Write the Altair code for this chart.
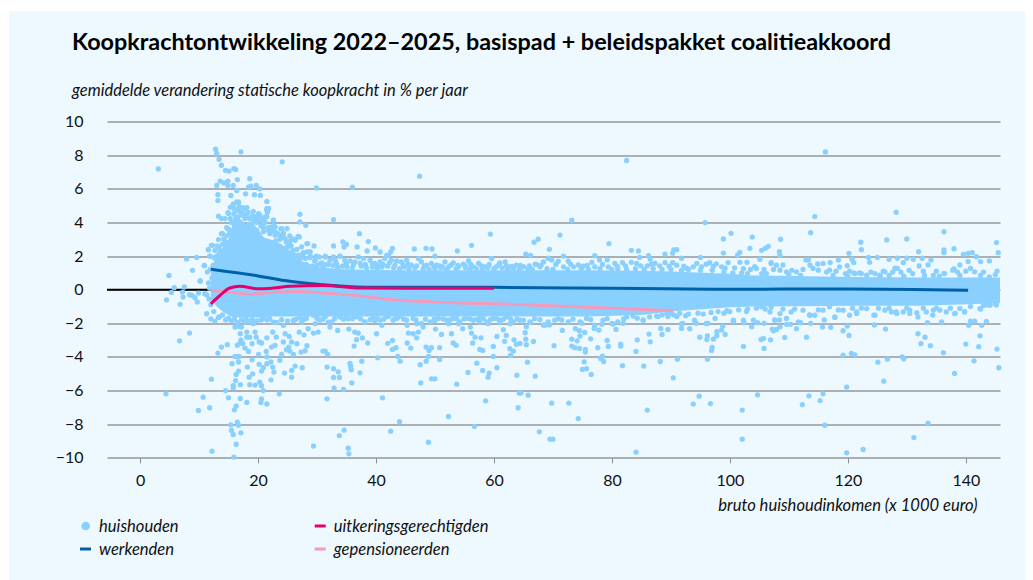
import altair as alt
import pandas as pd

FONT = "Lato"
BG = "#EDF8FF"
DOT = "#8AD0FF"
BLUE = "#0060A8"
MAGENTA = "#E6006E"
PINK = "#F59ABA"
INK = "#111111"

title_text = "Koopkrachtontwikkeling 2022–2025, basispad + beleidspakket coalitieakkoord"
subtitle_text = "gemiddelde verandering statische koopkracht in % per jaar"
x_title = "bruto huishoudinkomen (x 1000 euro)"

# solid core of the household cloud: upper and lower edge
band_x = [12, 13, 14, 15, 15.5, 16, 17, 18, 19, 20, 21, 22, 23, 24, 25, 26, 27, 28, 30, 35, 44, 55, 64, 76, 85, 90, 100, 104, 121, 132, 145.8]
band_hi = [1.0, 2.2, 2.5, 3.0, 3.6, 4.6, 4.2, 3.9, 4.0, 3.6, 3.1, 3.0, 2.9, 2.7, 2.4, 2.1, 1.8, 1.6, 1.35, 1.2, 1.15, 1.15, 1.15, 1.15, 1.12, 1.08, 0.95, 0.85, 0.75, 0.72, 0.72]
band_lo = [-0.6, -1.0, -1.3, -1.5, -1.6, -1.65, -1.65, -1.65, -1.65, -1.65, -1.65, -1.6, -1.6, -1.6, -1.6, -1.6, -1.6, -1.6, -1.6, -1.6, -1.6, -1.6, -1.6, -1.6, -1.5, -1.3, -1.05, -1.0, -0.95, -0.95, -0.8]

pts_upper_left = [
    (3.1,7.18),(12.8,8.35),(13,8.1),(13.4,7.75),(13.8,7.4),(14.5,7.1),(15.1,7.05),(15.9,7.2),(16.2,7.15),(17.1,8.2),
    (24.1,7.6),(18.6,6.6),(16.5,6.55),(29.9,6.05),(36,6.1),(47.4,6.75),(19.7,6.2),(20.3,6),(20.4,5.6),(19.4,5.65),
    (21.5,5.25),(17.9,5.7),(18.4,6.1),(18.8,6.15),(13,6.2),(13.6,6.45),(14.2,6.35),(14.9,6.45),(14.9,6.2),(15.4,5.6),
    (16.4,5.9),(15.8,6.2),(13.2,5.65),(13.2,5.3),(27.1,4.48),(27.1,4.03),(28.1,3.83),(32.8,4.17),(37.2,3.33),(59.4,3.31),
    (56.2,2.64),(53.8,2.3),(59.6,1.85),(46.5,2.42),(48.5,2.46),(49.5,2.42),(50,2),(47.3,1.85),(42.8,2.46),(42.5,2.24),
    (41.8,2.04),(39.9,2.48),(40.7,2.24),(38.7,2.86),(38.5,2.3),(36.8,2.54),(34.4,2.84),(35,2.7),(34.6,2.54),(32.8,2.6),
    (33.9,2),(32.8,1.95),(31.4,2),(29.5,2.6),(28.4,2.74),(28.8,2.24),(27.7,2.2),(29.9,2),(26.8,3.17),(26,3),
    (25.4,2.9),(24.9,3.63),(23.9,3.63),(24.3,3.33),(22.6,4.13),(22.7,3.79),(21.5,4.82),(21.6,4.6),(21.2,4.33),
    (16.4,5.22),(16.7,5.16),(15.8,5.02),(17.3,4.88),(18.1,4.88),(19.2,4.66),(20.1,4.52),(20.6,4.23),(16.4,4.72),(14.9,4.58),
    (13.3,4.37),(13.8,4.23),(14.4,4.23),(15.3,4.23),(14.7,3.69),(14,3.33),(14.4,2.88),(13.3,2.98),(12.7,2.34),(13,2),
    (13,1.65),(18,3.63),(19.8,3.53),(20.9,3.69),(22,3.33),(22.9,3.23),(23.7,3),(24.9,2.54),(25.7,2.24),(26.3,2.04),
    (27.1,1.85),(21.2,4.03),(19.2,4.03),(16.5,4.33),(17.8,4.23),
    (15,4.53),(15.8,5.08),(16.7,5.2),(17.8,4.83),(18.1,4.43),(20.3,4.43),(20.9,4.13),(21.5,4.73),(21.8,4.83),(21.5,4.33),
    (22.6,4.13),(22.3,3.73),(22.9,3.73),(24,3.63),(24.3,3.33),(25.4,3.2),(26.3,2.94),(27,3.14),(13.8,3.33),(14.4,2.84),
    (12.3,2.64),(11.6,2.38),(11.9,2),(10.9,1.45),(15.2,3.33),(16.4,4.13),(17.2,4.43),(18.6,4.23),(19.8,4),(17.5,3.57),
    (20.9,3.44),(21.7,3.54),(22.9,3.44),(23.7,3.24),(24.6,3.04),(25.4,2.65),(27.4,2.55),(26,2.35),(28.3,2.74),(28.3,2.25),
    (12.6,1.9),(13.4,2.5),(14.2,3),(15,3.6),(15.5,4),(16,4.8),(17,4.6),(18.5,3.9),(19.5,4.2),(20.5,3.8),
    (15.3,4.9),(15.9,4.5),(16.8,4.9),(17.4,4.55),(18.3,4.6),(19.1,4.4),(19.7,4.35),(20.2,4.15),(21,3.95),(21.8,3.7),
    (22.4,3.5),(23.3,3.35),(24,3.1),(24.8,2.85),(25.6,2.6),(26.6,2.4),(27.6,2.1),(28.8,1.9),(29.6,1.7),(13.1,2.6),
    (14,2.7),(14.7,3.2),(15.4,3.5),(16.1,3.9),(23,2.9),(25.1,2.55),(26.9,2.05),(28,1.85),(30.6,1.55),(31.6,1.5),
    (11.9,1.2),(12.2,0.7),(12,-0.9),(12.5,-1.3),(13.3,-1.65),(14,-1.5),(11.8,0.1),(11.7,-0.55),(12.4,1.45),(13.6,2.2),
]

pts_upper_mid = [
    (27.7,2.15),(28.8,2.25),(28.9,2),(29.7,1.75),(30.4,1.95),(31.4,1.95),(32.2,1.75),(33.1,1.75),(33.9,2),(34.7,1.75),
    (35.6,1.71),(36.4,1.65),(37,1.95),(37.9,1.85),(39,1.75),(39.8,1.56),(40.7,1.65),(41.5,1.85),(42.1,2.05),(42.6,1.75),
    (43.5,1.71),(44.3,1.65),(45.2,1.75),(46,1.46),(47.2,1.85),(47.7,1.65),(48.6,1.46),(49.4,1.56),(50.3,1.46),(51.7,1.65),
    (52.3,1.36),(53.1,1.6),(54,1.36),(54.8,1.52),(55.7,1.71),(56.5,1.36),(57.4,1.56),(58.5,1.36),(59.6,1.85),(60.4,1.36),
    (61,1.6),(61.9,1.65),(62.7,1.36),(63.8,1.46),(65,1.36),
    (28.2,1.5),(29.2,1.4),(30,1.45),(31,1.35),(32.7,1.45),(33.5,1.35),(34.3,1.4),(35.1,1.35),(36,1.3),(37.5,1.4),
    (38.4,1.3),(39.4,1.35),(40.2,1.25),(41,1.35),(42,1.4),(43,1.3),(44,1.25),(44.8,1.35),(45.6,1.2),(46.6,1.3),
    (48,1.25),(49,1.2),(50,1.25),(51,1.3),(52,1.2),(53.6,1.25),(55.2,1.3),(56,1.25),(57,1.25),(58,1.2),
    (59,1.3),(60,1.25),(61.4,1.3),(62.3,1.2),(63.3,1.25),(64.3,1.2),
    (30.8,1.6),(31.9,1.5),(33.3,1.55),(34.9,1.52),(36.2,1.48),(37.3,1.58),(38.2,1.5),(39.4,1.52),(40.3,1.42),(41.2,1.5),
    (42.3,1.6),(43.2,1.45),(44.6,1.48),(45.5,1.5),(46.9,1.42),(48.2,1.4),(49.8,1.38),(50.8,1.42),(51.3,1.35),(52.7,1.46),
    (53.9,1.44),(55.1,1.42),(56.1,1.5),(57.9,1.42),(59.2,1.5),(60.8,1.48),(62.1,1.42),(63.1,1.38),(64.5,1.45),
]

pts_far_left = [
    (7.9,1.83),(9.6,1.92),(8.9,1.15),(4.9,0.85),(10.2,0.54),(10.9,1.43),(11.6,2.38),(12.1,2.64),(11.8,2),(11.4,1.05),
    (5.8,0.12),(7.5,0.16),(5.3,-0.16),(7.2,-0.14),(8.4,-0.3),(8.8,-0.34),(7.3,-0.44),(9.3,-0.48),(9.7,-0.73),(6.8,-0.87),
    (4.5,-0.6),(9.9,-0.2),(11,-0.24),(11.3,-0.3),(10.2,0.5),(11.6,0.4),(11.3,-1.43),(12,-1.73),(12.7,-1.87),(8.4,-2.58),
    (6.7,-3.04),
]

pts_lower_left = [
    (13.2,-3.77),(13.8,-3.41),(14.8,-3.27),(15.6,-4.4),(16.5,-4),(16.1,-3.97),(16.8,-3.97),(16.7,-4.3),(17,-3.17),(16.5,-3.3),
    (17.4,-3.2),(17.1,-3),(17.8,-3.47),(18.4,-3.67),(19,-4.17),(20.1,-3.85),(21.5,-4),(21.4,-3.67),(22.3,-3.41),(22.9,-3.31),
    (20.6,-3.17),(20.2,-3.11),(19,-3.21),(18.1,-2.52),(19.5,-2.52),(17,-2.62),(16.1,-2.22),(16.7,-2.18),(17.2,-2.22),(18.6,-2.82),
    (19.7,-2.82),(18.1,-2.82),(21.5,-2.86),(22.5,-2.52),(23.1,-2.82),(24.6,-2.62),(25.3,-2.78),(24.3,-3.11),(25.7,-3.11),(26.6,-3.21),
    (27,-2.52),(27.8,-2.68),(28.5,-2.32),(29.4,-2.58),(30.2,-2.52),(25.2,-3.41),(24.8,-3.57),(25.4,-3.65),(26,-3.85),(24,-3.85),
    (23.7,-4.2),(22.2,-4.3),(22.5,-4.6),(21.5,-4.4),(20.9,-4.64),(20.2,-4.44),(18.2,-4.6),(19.1,-5),(18.5,-5.2),(16.7,-4.84),
    (16.3,-5.04),(16.2,-5.4),(15.8,-5.7),(17,-5.65),(15.8,-5.83),(18.6,-5.65),(19.5,-5.67),(20.3,-5.5),(20.6,-5.71),(20.9,-6),
    (20.6,-4.84),(22.7,-4.9),(22.2,-5.36),(24.5,-4.96),(25.7,-4.8),(26.3,-4.54),(25.7,-5.2),(27.5,-4.64),(27.3,-3.71),(28,-3.63),
    (28.3,-3.33),(23.6,-6.19),(12.1,-5.32),(14.5,-6),(4.4,-6.19),(10.7,-6.39),(15,-6.43),(17,-6.47),(18.1,-6.7),(20.5,-6.7),
    (20.6,-6.49),(21.5,-6.79),(16.3,-6.92),(16,-7.14),(11.8,-7.02),(9.9,-7.18),(15.4,-8.04),(16.5,-7.88),(16.7,-8.06),(15.5,-8.37),
    (15.8,-8.61),(17.1,-8.51),(16.3,-9.19),(12.2,-9.6),(15.9,-9.95),
    (13.5,-1.6),(14.5,-1.8),(15.5,-1.85),(16.5,-1.95),(17.2,-1.8),(18.4,-1.9),(19.8,-1.85),(21.6,-1.8),(23.2,-1.95),(25,-1.85),
    (15,-1.7),(16,-1.75),(18,-1.75),(19,-1.78),(20.5,-1.8),(22,-1.72),(24,-1.78),(26.5,-1.75),
]

pts_lower_mid = [
    (29.4,-9.3),(33.8,-8.67),(34.6,-8.35),(35.3,-9.42),(35.4,-9.76),(42.5,-8.41),(44,-7.85),(48.9,-9.07),(52.3,-7.54),(56.7,-8.13),
    (41.1,-6.43),(31.7,-6.49),(34.5,-5.93),(32.9,-5.85),(32.8,-5.22),(33.8,-5.22),(33.6,-4.88),(32.8,-4.7),(31.7,-4.6),(35.9,-5.54),
    (35.8,-4.76),(35.7,-4.56),(35.6,-4.38),(37.3,-4.94),(37.6,-4.25),(40.3,-4.05),(31,-3.65),(31.4,-3.65),(31.8,-3.85),(36.3,-3.35),
    (36.7,-2.97),(37.7,-2.87),(38.6,-3.17),(37,-2.58),(36.4,-2.52),(35.4,-2.34),(33.5,-2.42),(40.1,-2.62),(41,-2.12),(42,-3.19),
    (42.8,-3.02),(43.4,-3.45),(42.8,-3.55),(43.7,-3.97),(44.1,-4.25),(45.3,-3.17),(45.9,-3.47),(45.5,-2.58),(46.3,-2.62),(47.2,-2.52),
    (46.9,-2.86),(47.5,-4.46),(47.6,-5.54),(48.5,-4.25),(48.9,-3.97),(48.5,-3.41),(49.4,-3.45),(49,-3.61),(50.8,-3.45),(50.8,-4.15),
    (49.4,-5.3),(50,-5.3),(53.7,-5.62),(55.6,-4.92),(57.1,-4.37),(58.1,-4.8),(59.2,-4.96),(59,-5.2),(58.6,-6.61),(60.5,-4.64),
    (59.9,-3.97),(59.9,-3.37),(53.1,-3.17),(53.6,-3.31),(51.1,-2.66),(52.8,-2.62),(54.7,-2.32),(50.1,-2.34),(56.2,-2.58),(56.8,-2.82),
    (56.4,-3.17),(57.8,-2.86),(57.6,-3.55),(58.1,-3.61),(60.5,-2.78),(61.6,-2.38),(62.1,-2.72),(61.8,-3.07),(63.4,-2.98),(63.8,-3.25),
    (62.7,-3.51),(63.3,-3.65),(62.8,-3.91),(63.9,-5.08),(64.3,-6.15),(64.1,-7.02),
    (17.8,-1.93),(19.2,-2.02),(20.9,-1.73),(22.6,-1.93),(24.3,-2.12),(26,-1.84),(27.4,-1.93),(29.7,-2.02),(32.2,-2.22),(31.9,-1.93),
    (33.9,-1.63),(35.3,-1.73),(38.1,-1.93),(39.8,-1.84),(42.1,-1.59),(43.2,-1.73),(45.3,-2.12),(46.9,-2.02),(48,-2.22),(50,-1.84),
    (52.3,-2.02),(54,-2.02),(56,-2.22),(57.6,-1.93),(59,-2.02),(61,-1.93),(62.7,-2.02),
    (26,-1.81),(27.1,-1.65),(28.2,-1.71),(29.4,-1.52),(30.5,-1.81),(31.4,-1.61),(32.5,-1.91),(33.9,-1.58),(35,-1.65),(36.7,-1.61),
    (38.1,-1.91),(39.5,-1.71),(40.7,-1.81),(41.8,-1.61),(42.9,-1.81),(44,-1.58),(45.2,-1.81),(46.3,-1.71),(47.7,-2.01),(49.2,-1.91),
    (50.6,-1.71),(52,-1.81),(53.1,-1.71),(54.2,-1.91),(55.4,-1.71),(56.5,-1.81),(57.6,-1.71),(58.8,-1.91),(59.9,-1.71),(61,-1.81),
    (62.1,-1.61),(63.3,-1.91),(64.4,-1.81),
    (27.8,-1.75),(30,-1.7),(31,-1.75),(33,-1.72),(34.5,-1.75),(36,-1.72),(37.4,-1.74),(39,-1.78),(40.2,-1.7),(41.3,-1.75),
    (43.6,-1.7),(44.7,-1.75),(46.8,-1.8),(48.4,-1.75),(49.9,-1.72),(51.4,-1.74),(52.6,-1.78),(53.7,-1.72),(54.9,-1.74),(56,-1.74),
    (57.1,-1.76),(58.2,-1.72),(59.4,-1.78),(60.5,-1.72),(61.6,-1.76),(62.8,-1.72),(63.9,-1.74),
]

pts_upper_right = [
    (82.5,7.68),(116.2,8.19),(73.2,4.13),(95.8,3.99),(114.4,4.35),(128.2,4.6),(113.7,3.39),(100.2,3.35),(98.9,3.02),(103.8,3.13),
    (108.6,3),(122.2,2.82),(126.6,2.96),(130,3.02),(136.3,3.45),(145.2,2.8),(71.2,3.25),(67.5,3),(66.8,2.82),(79.5,2.74),
    (69.4,2.4),(83.3,2.34),(84.5,2.3),(91,2.38),(90.5,2.36),(89,2.12),(90.3,2.16),(65.4,2.12),(66.2,2.04),(71.8,2),
    (77.1,2.02),(86.2,2.02),(95,1.92),(91.8,1.87),(98.9,2.18),(101.7,2.22),(101.3,2.06),(103.4,2.46),(105.4,2.34),(106,2.46),
    (106.5,2.58),(108.4,2.26),(108.5,2.04),(122.3,2.38),(120.2,2.16),(132,2.26),(136.3,2.36),(136.3,2.2),(138,2.44),(139.6,2.1),
    (140.4,2.16),(141.1,2.2),(145.5,2.2),(77.9,1.77),(79.2,1.77),(72.6,1.69),(70.9,1.69),(69.2,1.87),(69.8,1.77),(68.4,1.65),
    (67.2,1.51),(65,1.37),(74.3,1.47),(76.6,1.63),(80.5,1.57),(81.8,1.61),(83.3,1.63),(84.7,1.92),(86.5,1.81),(87.3,1.57),
    (89,1.61),(90.3,1.61),(94.4,1.57),(96.6,1.61),(97.7,1.53),(99.7,1.61),(101.7,1.63),(102.9,1.63),(105.1,1.81),(104.2,1.37),
    (107,1.61),(109,1.47),(112.9,1.77),(113.3,1.77),(114.9,1.53),(117,1.61),(118.4,1.77),(119.9,1.43),(121,1.61),(120.7,1.81),
    (123.5,1.92),(123.7,1.63),(125,1.92),(127,1.81),(128.4,1.87),(130,1.87),(131.1,1.81),(132.6,1.87),(134.1,1.77),(129.4,1.61),
    (128,1.27),(133.6,1.47),(132.1,1.41),(139,1.47),(140.4,1.67),(141.8,1.96),(142.5,1.67),(144,1.71),(140.8,1.27),(138,1.23),
    (136.3,0.97),(126,1.11),(128.4,1.27),(121,1),(122,1),(125.5,0.83),
    (65.8,1.26),(67,1.52),(67.8,1.36),(71.8,1.36),(73.5,1.36),(75.1,1.4),(77.1,1.36),(79.4,1.36),(84.2,1.56),(86.7,1.52),
    (91,1.46),(92.7,1.26),(93.8,1.36),(96,1.52),(98.6,1.36),(104.5,1.26),(105.4,0.96),(106.2,0.96),(107,1.56),(107.9,1.46),
    (108.5,1.16),(109.6,1.06),(111.3,1.06),(113.6,1.46),(114.1,1.26),(115,1.16),(115.8,1.56),(116.9,1.16),(118.6,1.36),(119.6,0.96),
    (121.2,0.96),(122.3,0.96),(123.2,0.86),(124.6,0.96),(125.4,0.86),(126.3,1.06),(128,1.26),(131,0.96),(136.4,0.96),(137.8,1.16),
    (141.5,1.06),(144,0.76),(66.5,1.2),(69,1.25),(70,1.2),(72.5,1.2),(74.8,1.25),(76,1.2),(78,1.25),(80,1.2),
    (81,1.25),(82.5,1.2),(84,1.25),(85.5,1.2),(87,1.25),(88.5,1.2),(90,1.2),(91.8,1.15),(93,1.2),(95,1.15),
    (97,1.15),(99,1.05),(100.5,1),(102,1),(103,0.95),(110,0.9),(112,0.85),(117.5,0.85),(120,0.8),(127,0.85),
    (129.5,0.8),(133,0.85),(134.5,0.85),(135.5,0.8),(139,0.85),(142.5,0.85),(145,0.9),
    (66,1.42),(68,1.45),(70.5,1.5),(73,1.52),(75.8,1.45),(78.4,1.5),(80.9,1.4),(82.3,1.42),(84.9,1.42),(86,1.42),
    (88.1,1.42),(89.7,1.4),(92.2,1.38),(95.2,1.36),(97.2,1.38),(99.2,1.28),(100.8,1.3),(102.3,1.25),(103.5,1.2),(105.8,1.2),
    (107.4,1.2),(110.5,1.15),(112.4,1.2),(116.4,1.05),(118,1.1),(120.3,1.1),(123.9,1.05),(127.6,1.05),(129,1.05),(130.4,1.15),
    (132.8,1.1),(135,1.1),(138.6,1.05),(140,1.1),(143,1.05),(145.3,1.1),
]

pts_lower_right = [
    (65.5,-2.2),(65.3,-2.56),(65.4,-2.94),(66.7,-3.08),(65.5,-3.27),(64.4,-3.2),(71.6,-2.42),(70.2,-3.33),(73.8,-2.32),(74.5,-2.44),
    (75.4,-2.54),(74.6,-2.76),(73.2,-2.94),(74.1,-3.04),(76.4,-2.92),(73.2,-3.35),(73.7,-3.45),(74.5,-3.49),(75.5,-3.55),(75.5,-3.71),
    (77.6,-3.45),(79.2,-3.02),(79.4,-3.37),(81.5,-3.23),(81.5,-3.35),(84.3,-2.98),(86.3,-2.64),(86.5,-3.1),(84.1,-3.67),(77,-2.3),
    (77.8,-2.4),(80.7,-2.36),(88.3,-2.3),(89.5,-2.36),(88.5,-2.66),(78.4,-3.95),(78.1,-4.09),(78.6,-4.27),(75.3,-4.29),(75,-4.74),
    (75.7,-4.7),(76.5,-5.04),(81.8,-4.52),(85.4,-4.54),(88.2,-4.27),(91.1,-4.13),(96.2,-4.13),(90.4,-5.24),(65.7,-4.31),(67,-5.14),
    (64.6,-6.13),(65.8,-6.27),(69.8,-6.75),(72.7,-6.75),(74.3,-7.66),(67.7,-8.45),(69.5,-8.89),(70,-8.89),(86,-7.16),(93.8,-6.8),
    (94.8,-6.33),(96.7,-6.77),(102.1,-7.16),(102.1,-8.89),(104.7,-6.25),(112.3,-6.83),(113.4,-6.31),(115.3,-6.59),(115.8,-6.19),(116.1,-8.06),
    (119.8,-5.79),(126.1,-5.44),(138.1,-4.98),(133.6,-7.94),(131.2,-8.79),(84.1,-9.66),(119.8,-9.7),(122.6,-9.5),
    (94.9,-2.82),(96.1,-2.96),(96.2,-2.74),(97.2,-2.94),(97.8,-2.74),(97.8,-2.5),(98.6,-2.4),(98.8,-2.16),(99.2,-2.66),(93.2,-2.32),
    (91.8,-2.04),(91.8,-2.3),(97,-3.43),(96.9,-3.61),(102.3,-3.37),(105.8,-3.49),(105.3,-2.96),(105.7,-2.9),(106.9,-2.98),(109.3,-2.84),
    (113,-2.82),(107.2,-2.34),(107.9,-2.36),(107.4,-2.44),(108.5,-2.2),(111.3,-2.32),(109.6,-2.06),(110.3,-2.06),(112,-1.96),(113.7,-2),
    (115.7,-2.22),(117.1,-2.24),(116,-1.8),(119.2,-2.44),(120.2,-2.72),(119.9,-2.16),(119.2,-3.89),(120.6,-3.79),(121.2,-3.87),(124.5,-2.1),
    (126.4,-2.34),(125.1,-4.31),(126.7,-4.13),(129.2,-3.99),(129.5,-4.11),(131.9,-2.62),(133.1,-2.82),(132.4,-3.21),(134,-3.33),(133.5,-1.96),
    (135.9,-1.92),(136.2,-3.75),(140,-3.23),(142.2,-3.39),(142.4,-2.74),(141.4,-4.23),(145.3,-3.53),(145.6,-4.64),(140.5,-2.12),(140.8,-1.87),
    (141.5,-1.87),(142.7,-2.12),(143.5,-1.88),(142.5,-1.15),(143.8,-0.91),(145.2,-0.91),
    (66.2,-1.94),(68.7,-2.1),(69.4,-2.1),(71.5,-1.8),(74.9,-2),(78.3,-2.06),(80.2,-2.04),(81.9,-2),(83.6,-1.57),(85.3,-1.8),
    (87.8,-1.6),(89.5,-1.6),(91,-1.6),(94.3,-2),(96.3,-2),(100.6,-1.87),(102.4,-1.96),(103.7,-2.2),(104.7,-1.96),(105.8,-2),
    (107.6,-1.8),(108.4,-1.8),(113.5,-1.5),(117.8,-1.65),(121.5,-1.41),(124.4,-1.51),(128.3,-1.41),(130.5,-1.41),(131.7,-1.37),(134.4,-1.51),
    (138.2,-1.41),(139.8,-1.31),
    (65,-1.81),(66.1,-1.91),(68.4,-2.11),(69.2,-1.91),(70.3,-1.81),(72.6,-1.91),(74.6,-1.91),(75.7,-1.71),(77.1,-2.11),(78.5,-1.81),
    (80,-2.01),(81,-1.91),(82.5,-1.62),(85.3,-1.81),(87.6,-1.58),(89.3,-1.42),(92,-2.01),(94,-1.81),(96,-2.01),(97.5,-1.71),
    (100.6,-1.81),(102.3,-1.81),(104,-1.81),
    (105.4,-1.02),(106.8,-1.32),(107.6,-1.81),(108.5,-1.42),(109.6,-1.71),(110.4,-1.32),(111.6,-1.91),(112.4,-1.22),(113.6,-1.52),(114.4,-1.52),
    (115.8,-1.22),(116.9,-1.02),(117.8,-1.62),(119.2,-1.22),(120.3,-1.52),(121.5,-1.32),(123.2,-1.12),(124.6,-1.52),(126.3,-1.22),(127.4,-1.32),
    (128.2,-1.32),(129.4,-1.32),(130.5,-1.22),(131.9,-1.62),(133.3,-1.32),(134.5,-1.22),(135.6,-1.22),(136.7,-1.32),(138.1,-1.42),(139,-1.12),
    (139.8,-1.32),(142.4,-1.12),(144.1,-0.92),
    (90.5,-1.5),(92.5,-1.55),(95.5,-1.45),(98,-1.3),(99.5,-1.25),(101.5,-1.2),(103,-1.15),(104.5,-1.1),
    (66.9,-1.72),(67.8,-1.78),(70.9,-1.72),(73.4,-1.75),(76.4,-1.78),(79.2,-1.72),(82,-1.74),(84.3,-1.7),(86.4,-1.62),(88.5,-1.5),
    (90,-1.42),(91.5,-1.4),(93,-1.45),(94.6,-1.4),(96.8,-1.35),(99,-1.4),(100,-1.3),(102.8,-1.3),(106,-1.15),(107,-1.05),
    (109,-1.15),(111,-1.15),(115,-1.2),(118.4,-1.2),(120.8,-1.1),(122.3,-1.1),(125.2,-1.1),(127,-1.1),(130,-1.1),(132.8,-1.1),
    (135,-1.1),(137.4,-1.1),(140.8,-1),(143,-0.95),(145,-0.85),
]

werkenden_x = [12, 20, 25.4, 32.2, 40, 50, 60, 80, 98, 120, 140.4]
werkenden_y = [1.22, 0.82, 0.5, 0.27, 0.14, 0.15, 0.14, 0.08, 0.03, 0.04, -0.04]
uitkering_x = [12, 13.6, 15.2, 16.9, 20, 22.6, 25.4, 31, 37.3, 45, 60]
uitkering_y = [-0.84, -0.33, 0.1, 0.2, 0.05, 0.1, 0.2, 0.25, 0.1, 0.08, 0.08]
pensioen_x = [12, 14.7, 18.6, 23.2, 27, 32.2, 37.3, 42.9, 49.7, 64.4, 90.4]
pensioen_y = [-0.03, -0.13, -0.27, -0.13, -0.1, -0.23, -0.37, -0.6, -0.73, -0.88, -1.25]

x_ticks = [0, 20, 40, 60, 80, 100, 120, 140]
y_ticks = [-10, -8, -6, -4, -2, 0, 2, 4, 6, 8, 10]

legend_labels = ["huishouden", "werkenden", "uitkeringsgerechtigden", "gepensioneerden"]
legend_colors = [DOT, BLUE, MAGENTA, PINK]

X_SCALE = alt.Scale(domain=[-5.6, 145.8], nice=False, zero=False)
Y_SCALE = alt.Scale(domain=[-10, 10], nice=False, zero=False)

all_pts = pts_upper_left + pts_upper_mid + pts_far_left + pts_lower_left + pts_lower_mid + pts_upper_right + pts_lower_right
points_df = pd.DataFrame(all_pts, columns=["x", "y"])
band_df = pd.DataFrame({"x": band_x, "hi": band_hi, "lo": band_lo})
zero_df = pd.DataFrame({"x": [-5.6], "x2": [145.8], "y": [0]})

x_axis = alt.Axis(
    values=x_ticks, grid=False, domain=False, ticks=True, tickSize=5, tickColor="#8A8F94", tickWidth=1,
    labelFont=FONT, labelFontSize=16, labelColor=INK, labelPadding=10, format="d", labelFlush=False,
    title=x_title, titleFont=FONT, titleFontSize=16.6, titleFontStyle="italic", titleFontWeight="normal",
    titleColor=INK, titleAnchor="end", titleAlign="right", titleBaseline="alphabetic", titleX=870, titleY=53,
)
y_axis = alt.Axis(
    values=y_ticks, tickCount=11, grid=True, gridColor="#94989C", gridWidth=1.3, domain=False, ticks=False, labelOverlap=False,
    labelFont=FONT, labelFontSize=16, labelColor=INK, labelPadding=24, format="d", title=None,
)


def X(field):
    return alt.X(field, scale=X_SCALE, axis=x_axis)


def Y(field):
    return alt.Y(field, scale=Y_SCALE, axis=y_axis)


zero = alt.Chart(zero_df).mark_rule(color="#000000", strokeWidth=2).encode(
    x=X("x:Q"), x2="x2:Q", y=Y("y:Q")
)
band = alt.Chart(band_df).mark_area(color=DOT, interpolate="linear").encode(
    x=X("x:Q"), y=Y("hi:Q"), y2="lo:Q",
)
dots = alt.Chart(points_df).mark_circle(color=DOT, opacity=1, size=28).encode(
    x=X("x:Q"), y=Y("y:Q")
)


def line(xs, ys, colour):
    df = pd.DataFrame({"x": xs, "y": ys})
    return alt.Chart(df).mark_line(color=colour, strokeWidth=3, interpolate="monotone", strokeCap="butt").encode(
        x=X("x:Q"), y=Y("y:Q")
    )


# white page edge above and left of the tinted panel
strip_df = pd.DataFrame({"k": [0]})
strip_top = alt.Chart(strip_df).mark_rect(color="white").encode(
    x=alt.value(-99), x2=alt.value(918), y=alt.value(-113.5), y2=alt.value(-110.5)
)
strip_left = alt.Chart(strip_df).mark_rect(color="white").encode(
    x=alt.value(-99), x2=alt.value(-98), y=alt.value(-113.5), y2=alt.value(458.5)
)

title_mark = alt.Chart(pd.DataFrame({"t": [title_text]})).mark_text(
    font=FONT, fontSize=23.4, fontWeight="bold", align="left", baseline="alphabetic", color="#000000"
).encode(x=alt.value(-35), y=alt.value(-71), text="t:N")
subtitle_mark = alt.Chart(pd.DataFrame({"t": [subtitle_text]})).mark_text(
    font=FONT, fontSize=16.5, fontStyle="italic", align="left", baseline="alphabetic", color=INK
).encode(x=alt.value(-35), y=alt.value(-25.5), text="t:N")

# legend, built from the label and colour lists
legend_layers = []
col_text_x = [-8, -8, 226.7, 226.7]
row_y = [404.5, 427.5, 404.5, 427.5]
for i, lab in enumerate(legend_labels):
    d = pd.DataFrame({"label": [lab]})
    legend_layers.append(
        alt.Chart(d).mark_text(font=FONT, fontSize=16.6, fontStyle="italic", align="left", baseline="middle", color=INK).encode(
            x=alt.value(col_text_x[i]), y=alt.value(row_y[i] + 1), text="label:N"
        )
    )
    if i == 0:
        legend_layers.append(
            alt.Chart(d).mark_circle(color=legend_colors[i], opacity=1, size=75).encode(
                x=alt.value(-21.3), y=alt.value(row_y[i])
            )
        )
    else:
        legend_layers.append(
            alt.Chart(d).mark_rule(color=legend_colors[i], strokeWidth=3).encode(
                x=alt.value(col_text_x[i] - 19), x2=alt.value(col_text_x[i] - 8), y=alt.value(row_y[i])
            )
        )

chart = alt.layer(
    zero, strip_top, strip_left, band, dots,
    line(werkenden_x, werkenden_y, BLUE),
    line(pensioen_x, pensioen_y, PINK),
    line(uitkering_x, uitkering_y, MAGENTA),
    title_mark, subtitle_mark,
    *legend_layers,
).properties(
    width=893,
    height=336.4,
    autosize=alt.AutoSizeParams(type="none"),
    padding={"left": 99, "top": 113.5, "right": 25, "bottom": 122},
    background=BG,
).configure_view(stroke=None)

chart.save("out.html", embed_options={"renderer": "svg", "actions": False})
